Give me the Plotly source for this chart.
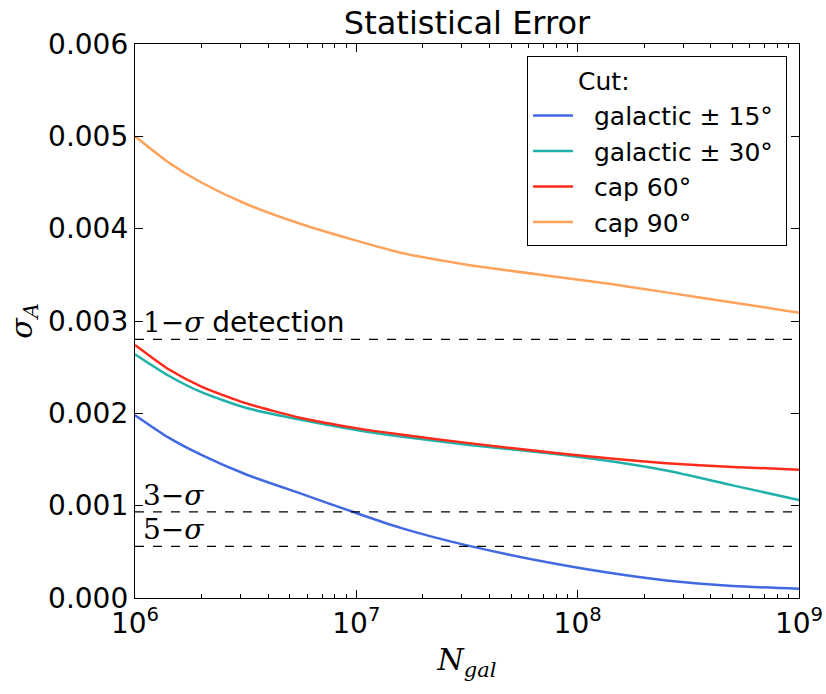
import plotly.graph_objects as go

# ---- data ----
log_n = [6.0, 6.15, 6.3, 6.5, 6.75, 7.0, 7.2, 7.5, 7.9, 8.15, 8.4, 8.7, 9.0]
n_gal = [10 ** v for v in log_n]

galactic_15 = [0.00198, 0.00174, 0.00155, 0.00134, 0.00113, 0.00092, 0.00076,
               0.00057, 0.00037, 0.00027, 0.00019, 0.00013, 0.00010]
galactic_30 = [0.00264, 0.00241, 0.00223, 0.00206, 0.00193, 0.00182, 0.00175,
               0.00166, 0.00156, 0.00148, 0.00138, 0.00122, 0.00106]
cap_60 = [0.00274, 0.00248, 0.00229, 0.00211, 0.00195, 0.00184, 0.00177,
          0.00168, 0.00157, 0.00151, 0.00146, 0.00142, 0.00139]
cap_90 = [0.00500, 0.00472, 0.00450, 0.00427, 0.00405, 0.00387, 0.00374,
          0.00361, 0.00348, 0.00340, 0.00331, 0.00320, 0.00309]

series_names = ["galactic ± 15°", "galactic ± 30°", "cap 60°", "cap 90°"]
series_values = [galactic_15, galactic_30, cap_60, cap_90]
series_colors = ["#4169E1", "#20B2AA", "#FF2A1A", "#FFA35C"]

detection_levels = [0.0028, 0.000933, 0.00056]
detection_labels = [
    "<span style='font-family:DejaVu Serif'>1−<i>σ</i></span> detection",
    "<span style='font-family:DejaVu Serif'>3−<i>σ</i></span>",
    "<span style='font-family:DejaVu Serif'>5−<i>σ</i></span>",
]

x_ticks = [1e6, 1e7, 1e8, 1e9]
x_ticktext = ["10<sup>6</sup>", "10<sup>7</sup>", "10<sup>8</sup>", "10<sup>9</sup>"]
x_minor_ticks = [2e6, 3e6, 4e6, 5e6, 6e6, 7e6, 8e6, 9e6,
                 2e7, 3e7, 4e7, 5e7, 6e7, 7e7, 8e7, 9e7,
                 2e8, 3e8, 4e8, 5e8, 6e8, 7e8, 8e8, 9e8]
y_ticks = [0, 0.001, 0.002, 0.003, 0.004, 0.005, 0.006]

fig = go.Figure()

# legend header entry
fig.add_trace(go.Scatter(x=[None], y=[None], mode="lines", name="Cut:",
                         line=dict(color="rgba(0,0,0,0)", width=2.5)))

for name, vals, col in zip(series_names, series_values, series_colors):
    fig.add_trace(go.Scatter(x=n_gal, y=vals, mode="lines",
                             name="&nbsp;&nbsp;" + name + "&nbsp;",
                             line=dict(color=col, width=2.5, shape="spline", smoothing=0.6)))

for lvl in detection_levels:
    fig.add_trace(go.Scatter(x=[x_ticks[0], x_ticks[-1]], y=[lvl, lvl], mode="lines",
                             showlegend=False, hoverinfo="skip",
                             line=dict(color="black", width=1.3, dash="dash")))

for lvl, lab in zip(detection_levels, detection_labels):
    fig.add_annotation(x=6, y=lvl, xref="x", yref="y", text=lab, showarrow=False,
                       xanchor="left", yanchor="bottom", xshift=6, yshift=-2,
                       font=dict(size=28, color="black", family="DejaVu Sans"))

fig.update_layout(
    width=826, height=694,
    margin=dict(l=135, r=27, t=44, b=96),
    paper_bgcolor="white", plot_bgcolor="white",
    font=dict(family="DejaVu Sans", color="black"),
    title=dict(text="Statistical Error", x=(135 + 799) / 2 / 826, xanchor="center",
               y=1 - 23 / 694, yanchor="middle", yref="container",
               font=dict(size=32, color="black")),
    showlegend=True,
    legend=dict(x=0.982, xanchor="right", y=0.978, yanchor="top",
                bgcolor="white", bordercolor="black", borderwidth=1,
                font=dict(size=25, color="black"), itemwidth=40,
                tracegroupgap=0),
)

fig.update_xaxes(type="log", range=[6, 9], tickvals=x_ticks, ticktext=x_ticktext,
                 automargin=False,
                 ticks="inside", ticklen=8, tickcolor="black", tickwidth=1,
                 showline=True, linecolor="black", linewidth=1.3, mirror="ticks",
                 showgrid=False, zeroline=False,
                 tickfont=dict(size=28, color="black"),
                 minor=dict(tickvals=x_minor_ticks, ticks="inside", ticklen=4,
                            tickcolor="black", showgrid=False),
                 title=dict(text="<i>N</i><sub><i>gal</i></sub>", standoff=10,
                            font=dict(size=30, family="DejaVu Serif", color="black")))

fig.update_yaxes(range=[0, 0.006], tickvals=y_ticks, tickformat=".3f",
                 automargin=False,
                 ticks="inside", ticklen=8, tickcolor="black", tickwidth=1,
                 showline=True, linecolor="black", linewidth=1.3, mirror="ticks",
                 showgrid=False, zeroline=False,
                 tickfont=dict(size=28, color="black"),
                 title=dict(text="<i>σ</i><sub><i>A</i></sub>", standoff=6,
                            font=dict(size=30, family="DejaVu Serif", color="black")))

fig.write_html("out.html")
